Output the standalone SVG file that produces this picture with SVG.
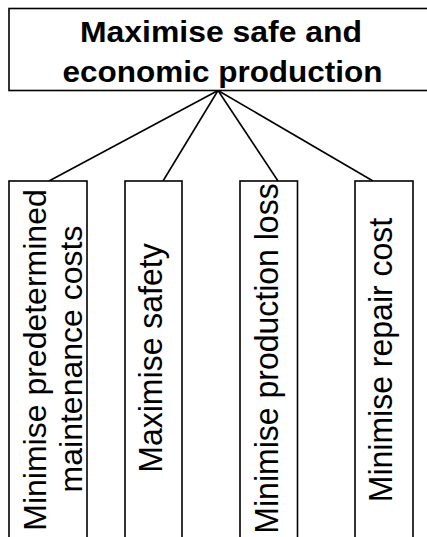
<svg xmlns="http://www.w3.org/2000/svg" width="427" height="537" viewBox="0 0 427 537">
<style>
.box{fill:#fff;stroke:#000;stroke-width:1.6}
.ln{stroke:#000;stroke-width:1.6;fill:none}
.t{font-family:"Liberation Sans",Arial,sans-serif;font-size:32px;fill:#000;text-anchor:middle}
.tb{font-family:"Liberation Sans",Arial,sans-serif;font-size:29px;font-weight:bold;fill:#000;text-anchor:middle}
</style>
<rect width="427" height="537" fill="#fff"/>
<g id="connectors">
<line class="ln" x1="218" y1="90.5" x2="49" y2="181"/>
<line class="ln" x1="218" y1="90.5" x2="163" y2="181"/>
<line class="ln" x1="218" y1="90.5" x2="278" y2="181"/>
<line class="ln" x1="218" y1="90.5" x2="373" y2="181"/>
</g>
<g id="root">
<rect class="box" x="9" y="8.5" width="430" height="82"/>
<text class="tb" x="221" y="41.5" textLength="282" lengthAdjust="spacingAndGlyphs">Maximise safe and</text>
<text class="tb" x="222.5" y="81.5" textLength="320" lengthAdjust="spacingAndGlyphs">economic production</text>
</g>
<g id="n1">
<rect class="box" x="9" y="181" width="78" height="370"/>
<text class="t" transform="translate(45.5,360) rotate(-90)">Minimise predetermined</text>
<text class="t" transform="translate(82,359) rotate(-90)">maintenance costs</text>
</g>
<g id="n2">
<rect class="box" x="125" y="181" width="57" height="370"/>
<text class="t" transform="translate(162,358) scale(1.06,1) rotate(-90)">Maximise safety</text>
</g>
<g id="n3">
<rect class="box" x="240" y="181" width="57.5" height="370"/>
<text class="t" transform="translate(277.5,358.5) scale(1.06,1) rotate(-90)">Minimise production loss</text>
</g>
<g id="n4">
<rect class="box" x="355" y="181" width="58" height="370"/>
<text class="t" transform="translate(391.5,360) scale(1.06,1) rotate(-90)">Minimise repair cost</text>
</g>
</svg>
